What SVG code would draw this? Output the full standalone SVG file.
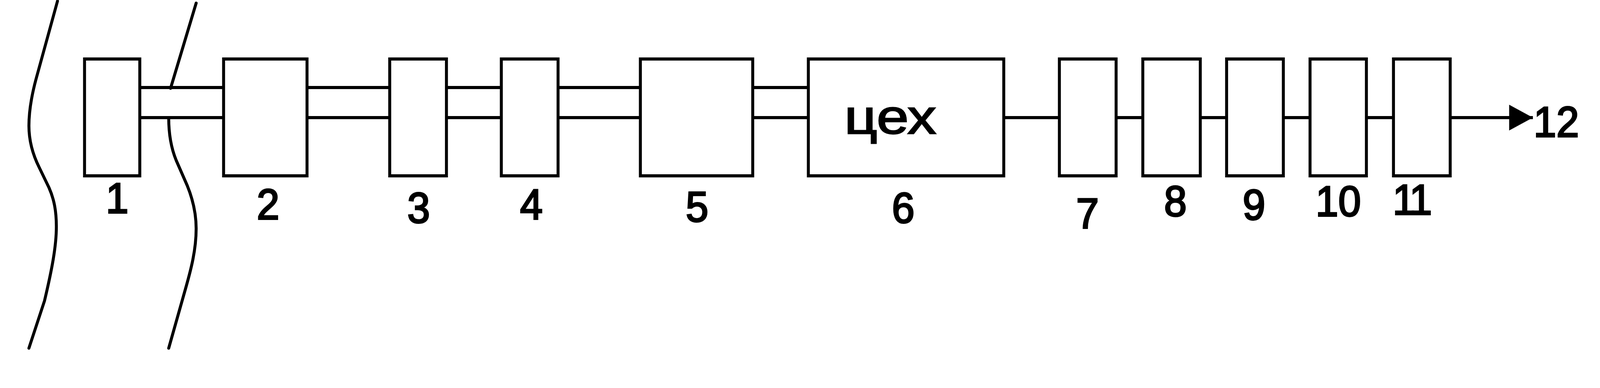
<svg xmlns="http://www.w3.org/2000/svg" width="4315" height="993" viewBox="0 0 4315 993">
<style>
  .box { fill: #ffffff; stroke: #000000; stroke-width: 8; }
  .wire { fill: none; stroke: #000000; stroke-width: 8; stroke-linecap: butt; }
  .wave { fill: none; stroke: #000000; stroke-width: 8; stroke-linecap: round; stroke-linejoin: round; }
  .lbl { font-family: "Liberation Sans", "DejaVu Sans", sans-serif; font-size: 110px; fill: #000000; stroke: #000000; stroke-width: 4; text-anchor: middle; }
  .lbs { font-family: "Liberation Sans", "DejaVu Sans", sans-serif; font-size: 110px; fill: #000000; stroke: #000000; stroke-width: 4; text-anchor: start; }
  .inner { font-family: "Liberation Sans", "DejaVu Sans", sans-serif; font-size: 125px; fill: #000000; stroke: #000000; stroke-width: 3; }
</style>
<defs>
  <marker id="arrow" markerUnits="userSpaceOnUse" markerWidth="70" markerHeight="70" refX="64" refY="33" orient="auto">
    <path d="M0,0 L64,33 L0,66 Z" fill="#000000"/>
  </marker>
</defs>
<rect width="4315" height="993" fill="#ffffff"/>

<g id="diagram" transform="scale(0.94925,1)">
<g id="boundaries">
  <path class="wave" d="M155,3 L97,203 C86,242 78,282 78,322 C78,360 88,395 106,429 L132,480 C146,510 152,540 152,580 C152,630 140,690 120,770 L78,891"/>
  <path class="wave" d="M529,8 L460,226"/>
  <path class="wave" d="M455,302 C455,340 460,375 475,410 L505,475 C520,510 529,545 529,585 C529,640 515,690 500,740 L455,891"/>
</g>

<g id="connectors">
  <line class="wire" x1="377" y1="224" x2="603" y2="224"/>
  <line class="wire" x1="377" y1="301" x2="603" y2="301"/>
  <line class="wire" x1="828" y1="224" x2="1051" y2="224"/>
  <line class="wire" x1="828" y1="301" x2="1051" y2="301"/>
  <line class="wire" x1="1204" y1="224" x2="1352" y2="224"/>
  <line class="wire" x1="1204" y1="301" x2="1352" y2="301"/>
  <line class="wire" x1="1505" y1="224" x2="1727" y2="224"/>
  <line class="wire" x1="1505" y1="301" x2="1727" y2="301"/>
  <line class="wire" x1="2030" y1="224" x2="2180" y2="224"/>
  <line class="wire" x1="2030" y1="301" x2="2180" y2="301"/>
  <line class="wire" x1="2707" y1="301" x2="2857" y2="301"/>
  <line class="wire" x1="3010" y1="301" x2="3082" y2="301"/>
  <line class="wire" x1="3237" y1="301" x2="3308" y2="301"/>
  <line class="wire" x1="3461" y1="301" x2="3533" y2="301"/>
  <line class="wire" x1="3685" y1="301" x2="3758" y2="301"/>
  <line class="wire" x1="3911" y1="301" x2="4134" y2="301" marker-end="url(#arrow)"/>
</g>

<g id="node1"><rect class="box" x="228" y="151" width="149" height="299"/><text class="lbl" x="316" y="545">1</text></g>
<g id="node2"><rect class="box" x="603" y="151" width="225" height="299"/><text class="lbl" x="723" y="561">2</text></g>
<g id="node3"><rect class="box" x="1051" y="151" width="153" height="299"/><text class="lbl" x="1129" y="570">3</text></g>
<g id="node4"><rect class="box" x="1352" y="151" width="153" height="299"/><text class="lbl" x="1433" y="561">4</text></g>
<g id="node5"><rect class="box" x="1727" y="151" width="303" height="299"/><text class="lbl" x="1880" y="567">5</text></g>
<g id="node6"><rect class="box" x="2180" y="151" width="527" height="299"/><text class="inner" x="2277" y="342" textLength="248" lengthAdjust="spacingAndGlyphs">цех</text><text class="lbl" x="2436" y="570">6</text></g>
<g id="node7"><rect class="box" x="2857" y="151" width="153" height="299"/><text class="lbl" x="2933" y="584">7</text></g>
<g id="node8"><rect class="box" x="3082" y="151" width="155" height="299"/><text class="lbl" x="3170" y="553">8</text></g>
<g id="node9"><rect class="box" x="3308" y="151" width="153" height="299"/><text class="lbl" x="3382" y="562">9</text></g>
<g id="node10"><rect class="box" x="3533" y="151" width="152" height="299"/><text class="lbs" x="3548" y="553">10</text></g>
<g id="node11"><rect class="box" x="3758" y="151" width="153" height="299"/><text class="lbs" x="3756" y="549" letter-spacing="-8">11</text></g>
<g id="node12"><text class="lbs" x="4136" y="350">12</text></g>
</g>
</svg>
